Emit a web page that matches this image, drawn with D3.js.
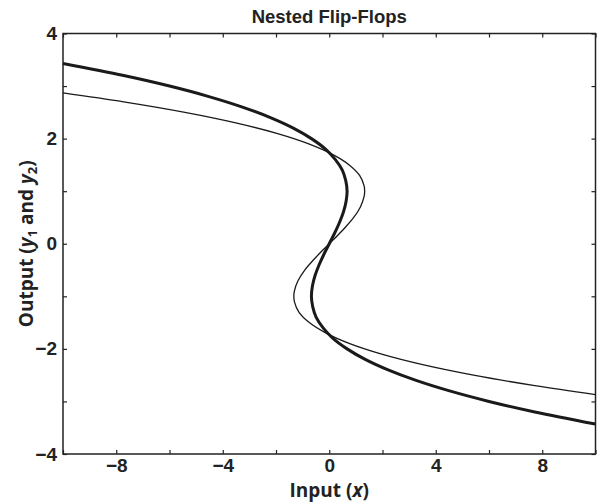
<!DOCTYPE html>
<html lang="en">

<head>
    <meta charset="UTF-8" />
    <title>Nested Flip-Flops</title>
    <script src="https://d3js.org/d3.v7.min.js"></script>
    <style>
        body {
            margin: 0;
            background: #fff;
        }

        .tick text {
            font-family: "Liberation Sans", Arial, sans-serif;
            font-weight: bold;
            font-size: 19px;
            fill: #222;
        }

        .axis .domain {
            stroke: none;
        }

        .axis line {
            stroke: #222;
            stroke-width: 1.2;
        }
    </style>
</head>

<body>
    <svg id="chart" width="600" height="503"></svg>
    <script>
        // output level y and the input x where each curve sits
        const yThick = [3.43, 3.2, 3.0, 2.8, 2.6, 2.4, 2.2, 2.0, 1.8, 1.6, 1.4, 1.2, 1.0, 0.8, 0.6, 0.4, 0.2, 0,
            -0.2, -0.4, -0.6, -0.8, -1.0, -1.2, -1.4, -1.6, -1.8, -2.0, -2.2, -2.4, -2.6, -2.8, -3.0, -3.2, -3.43];
        const xThick = [-10, -7.72, -6.0, -4.52, -3.26, -2.21, -1.35, -0.67, -0.14, 0.23, 0.49, 0.62, 0.67, 0.63, 0.53, 0.38, 0.2, 0,
            -0.2, -0.38, -0.53, -0.63, -0.67, -0.62, -0.49, -0.23, 0.14, 0.67, 1.35, 2.21, 3.26, 4.52, 6.0, 7.72, 10];

        const yThin = [2.87, 2.7, 2.5, 2.3, 2.1, 1.9, 1.7, 1.5, 1.3, 1.1, 1.0, 0.9, 0.7, 0.5, 0.3, 0.1, 0,
            -0.1, -0.3, -0.5, -0.7, -0.9, -1.0, -1.1, -1.3, -1.5, -1.7, -1.9, -2.1, -2.3, -2.5, -2.7, -2.87];
        const xThin = [-10, -7.72, -5.42, -3.51, -1.97, -0.77, 0.12, 0.75, 1.14, 1.31, 1.33, 1.31, 1.17, 0.92, 0.58, 0.2, 0,
            -0.2, -0.58, -0.92, -1.17, -1.31, -1.33, -1.31, -1.14, -0.75, -0.12, 0.77, 1.97, 3.51, 5.42, 7.72, 10];

        const xTicks = [-10, -8, -6, -4, -2, 0, 2, 4, 6, 8, 10];
        const xLabels = [-8, -4, 0, 4, 8];
        const yTicks = [-4, -3, -2, -1, 0, 1, 2, 3, 4];
        const yLabels = [-4, -2, 0, 2, 4];

        const svg = d3.select("svg#chart");
        const margins = { top: 33.5, right: 4.5, bottom: 49, left: 63 };
        const chartWidth = svg.attr("width") - margins.left - margins.right;
        const chartHeight = svg.attr("height") - margins.top - margins.bottom;

        const xScale = d3.scaleLinear().domain([-10, 10]).range([0, chartWidth]);
        const yScale = d3.scaleLinear().domain([-4, 4]).range([chartHeight, 0]);

        const chartArea = svg.append("g")
            .attr("transform", `translate(${margins.left},${margins.top})`);

        const minus = (d) => (d < 0 ? "\u2212" + Math.abs(d) : "" + d);
        const fmtX = (d) => (xLabels.includes(d) ? minus(d) : "");
        const fmtY = (d) => (yLabels.includes(d) ? minus(d) : "");

        // ticks point inward on all four sides
        chartArea.append("g").attr("class", "axis")
            .attr("transform", `translate(0,${chartHeight})`)
            .call(d3.axisBottom(xScale).tickValues(xTicks).tickSize(-4).tickPadding(5).tickFormat(fmtX));
        chartArea.append("g").attr("class", "axis")
            .call(d3.axisTop(xScale).tickValues(xTicks).tickSize(-4).tickFormat(""));
        chartArea.append("g").attr("class", "axis")
            .call(d3.axisLeft(yScale).tickValues(yTicks).tickSize(-4).tickPadding(6).tickFormat(fmtY));
        chartArea.append("g").attr("class", "axis")
            .attr("transform", `translate(${chartWidth},0)`)
            .call(d3.axisRight(yScale).tickValues(yTicks).tickSize(-4).tickFormat(""));

        chartArea.append("rect")
            .attr("width", chartWidth)
            .attr("height", chartHeight)
            .attr("fill", "none")
            .attr("stroke", "#222")
            .attr("stroke-width", 1.5);

        const lineGen = d3.line()
            .x((d) => xScale(d[0]))
            .y((d) => yScale(d[1]))
            .curve(d3.curveCatmullRom);

        chartArea.append("path")
            .datum(d3.zip(xThin, yThin))
            .attr("fill", "none")
            .attr("stroke", "#1a1a1a")
            .attr("stroke-width", 1.3)
            .attr("d", lineGen);

        chartArea.append("path")
            .datum(d3.zip(xThick, yThick))
            .attr("fill", "none")
            .attr("stroke", "#1a1a1a")
            .attr("stroke-width", 3)
            .attr("d", lineGen);

        svg.append("text")
            .attr("x", margins.left + chartWidth / 2)
            .attr("y", 23)
            .attr("text-anchor", "middle")
            .attr("font-family", "Liberation Sans, Arial, sans-serif")
            .attr("font-weight", "bold")
            .attr("font-size", 18.5)
            .attr("fill", "#222")
            .text("Nested Flip-Flops");

        const xLabel = svg.append("text")
            .attr("x", margins.left + chartWidth / 2)
            .attr("y", 497)
            .attr("text-anchor", "middle")
            .attr("font-family", "Open Sans, sans-serif")
            .attr("font-weight", "bold")
            .attr("font-size", 19)
            .attr("fill", "#222");
        xLabel.append("tspan").text("Input (");
        xLabel.append("tspan").attr("font-style", "italic").text("x");
        xLabel.append("tspan").text(")");

        const yLabel = svg.append("text")
            .attr("transform", `translate(33,${margins.top + chartHeight / 2}) rotate(-90)`)
            .attr("text-anchor", "middle")
            .attr("font-family", "Open Sans, sans-serif")
            .attr("font-weight", "bold")
            .attr("font-size", 19)
            .attr("fill", "#222");
        yLabel.append("tspan").text("Output (");
        yLabel.append("tspan").attr("font-style", "italic").text("y");
        yLabel.append("tspan").attr("font-size", 13).attr("dy", 4).text("1");
        yLabel.append("tspan").attr("dy", -4).text(" and ");
        yLabel.append("tspan").attr("font-style", "italic").text("y");
        yLabel.append("tspan").attr("font-size", 13).attr("dy", 4).text("2");
        yLabel.append("tspan").attr("dy", -4).text(")");
    </script>
</body>

</html>
